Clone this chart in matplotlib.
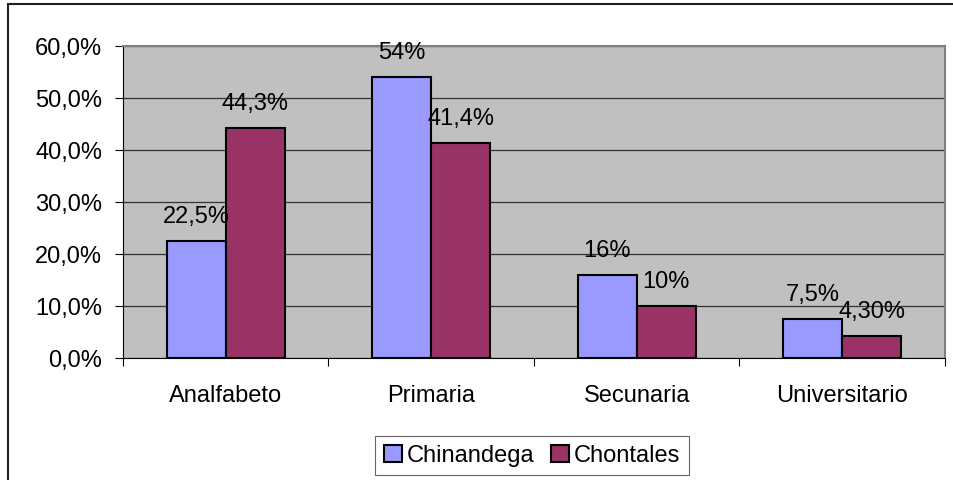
import matplotlib
matplotlib.use('Agg')
import numpy as np
import matplotlib.pyplot as plt
from matplotlib.patches import Rectangle
from matplotlib.ticker import FuncFormatter

plt.rcParams['font.family'] = ['Liberation Sans', 'DejaVu Sans']

categories = ['Analfabeto', 'Primaria', 'Secunaria', 'Universitario']
chinandega = [22.5, 54.0, 16.0, 7.5]
chontales = [44.3, 41.4, 10.0, 4.3]
chinandega_labels = ['22,5%', '54%', '16%', '7,5%']
chontales_labels = ['44,3%', '41,4%', '10%', '4,30%']
y_ticks = [0, 10, 20, 30, 40, 50, 60]

fs = 17

fig = plt.figure(figsize=(9.54, 4.81), dpi=100)
ax = fig.add_axes([123 / 954, 1 - 359 / 481, 822 / 954, 312 / 481])

x = np.arange(len(categories))
w = 0.287
ax.set_facecolor('#C0C0C0')
b1 = ax.bar(x - w / 2, chinandega, w, color='#9999FF', edgecolor='black', linewidth=1.5,
            label='Chinandega', zorder=3)
b2 = ax.bar(x + w / 2, chontales, w, color='#993366', edgecolor='black', linewidth=1.5,
            label='Chontales', zorder=3)

# value labels above each bar
for bars, labels in [(b1, chinandega_labels), (b2, chontales_labels)]:
    for bar, lab in zip(bars, labels):
        ax.annotate(lab, (bar.get_x() + bar.get_width() / 2, bar.get_height()),
                    xytext=(0, 18), textcoords='offset points', ha='center', va='center',
                    fontsize=fs, zorder=5)

ax.set_xlim(-0.5, len(categories) - 0.5)
ax.set_ylim(0, 60)
ax.set_yticks(y_ticks)
ax.yaxis.set_major_formatter(FuncFormatter(lambda v, p: ('%.1f%%' % v).replace('.', ',')))
ax.grid(axis='y', color='#333333', linewidth=0.9, zorder=1)
ax.set_xticks(np.arange(-0.5, len(categories), 1.0))
ax.set_xticklabels([])
ax.set_xticks(x, minor=True)
ax.set_xticklabels(categories, minor=True)
ax.tick_params(axis='x', which='minor', length=0, pad=19, labelsize=fs)
ax.tick_params(axis='x', which='major', length=6, width=0.8, direction='out')
ax.tick_params(axis='y', length=6, width=0.8, labelsize=fs, pad=9)

for side in ['top', 'right']:
    ax.spines[side].set_color('#808080')
    ax.spines[side].set_linewidth(1.5)
ax.spines['left'].set_color('black')
ax.spines['bottom'].set_color('black')

leg = ax.legend(loc='center', bbox_to_anchor=(532 / 954, 1 - 456.5 / 481),
                bbox_transform=fig.transFigure, ncol=2, frameon=True, fancybox=False,
                fontsize=fs, handlelength=0.76, handleheight=0.76, handletextpad=0.22,
                columnspacing=0.7, borderpad=0.35, borderaxespad=0)
leg.get_frame().set_edgecolor('#404040')
leg.get_frame().set_linewidth(0.8)

# outer chart border (left and top edges show)
fig.patches.append(Rectangle((8 / 954, -0.05), 1.0, 1 - 5 / 481 + 0.05,
                             transform=fig.transFigure, fill=False,
                             edgecolor='#202020', linewidth=1.5))

fig.savefig('out.png', dpi=100)
